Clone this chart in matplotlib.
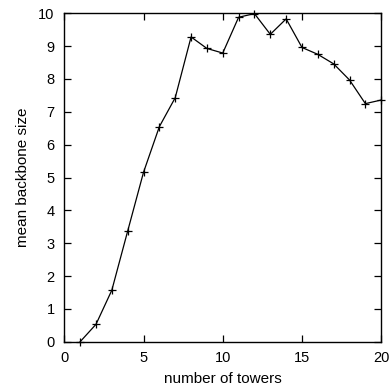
import matplotlib
matplotlib.use("Agg")
import matplotlib.pyplot as plt

plt.rcParams['font.family'] = ['Liberation Sans', 'DejaVu Sans']

# number of towers vs mean backbone size
towers = list(range(1, 21))
backbone = [0.0, 0.53, 1.57, 3.37, 5.16, 6.55, 7.43, 9.28, 8.93, 8.79,
            9.88, 9.99, 9.36, 9.83, 8.96, 8.75, 8.46, 7.97, 7.25, 7.36]

fig = plt.figure(figsize=(3.89, 3.87), dpi=100)
ax = fig.add_axes([0.1653, 0.117, 0.8147, 0.8486])

ax.plot(towers, backbone, color="black", linewidth=0.9,
        marker="+", markersize=6, markeredgewidth=0.9, clip_on=False)

ax.set_xlim(0, 20)
ax.set_ylim(0, 10)
ax.set_xticks([0, 5, 10, 15, 20])
ax.set_yticks(range(0, 11))
ax.tick_params(direction="in", length=5, width=0.9, labelsize=10.5,
               top=True, right=True, pad=7)
for s in ax.spines.values():
    s.set_linewidth(1.0)

ax.set_xlabel("number of towers", fontsize=11, labelpad=5)
ax.set_ylabel("mean backbone size", fontsize=11, labelpad=6)

fig.savefig("out.png", dpi=100)
